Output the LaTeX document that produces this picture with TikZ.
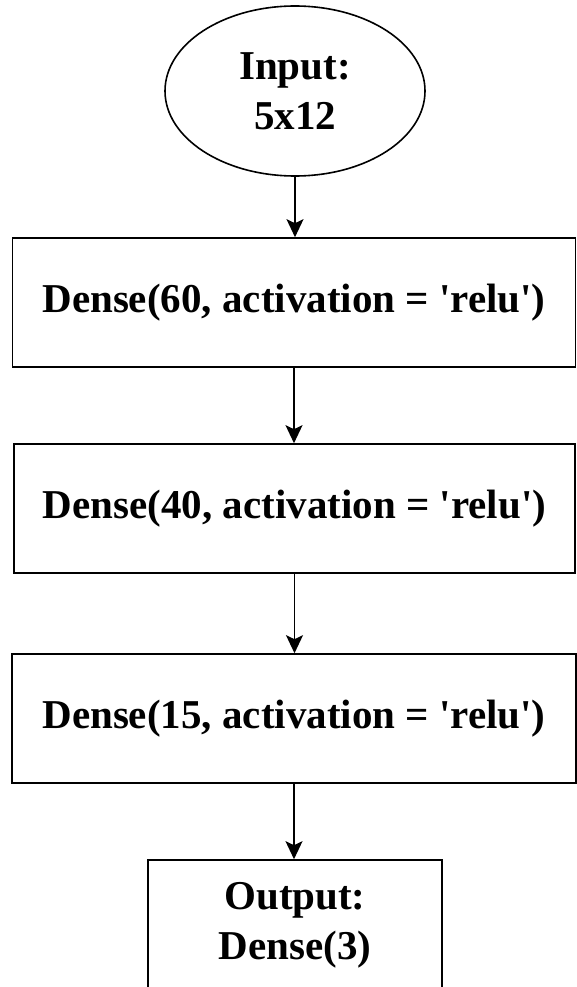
\documentclass[tikz,border=0pt]{standalone}
\usepackage{fontspec}
\setmainfont{Liberation Serif}[Ligatures=TeXOff]
\usetikzlibrary{shapes.geometric,arrows.meta}
\begin{document}
\begin{tikzpicture}[x=1pt,y=-1pt,
  every node/.style={font=\bfseries\fontsize{41}{50}\selectfont, align=center, inner sep=0pt},
  boxnode/.style={draw=black, line width=1.6pt, rectangle},
  ellnode/.style={draw=black, line width=1.6pt, ellipse},
  arr/.style={draw=black, line width=1.6pt, -{Stealth[length=18pt,width=17pt,inset=4pt]}}]
\useasboundingbox (0,0) rectangle (577,987);
\node[ellnode, minimum width=260pt, minimum height=170pt] (e) at (295,91) {Input:\\5x12};
\node[boxnode, minimum width=563pt, minimum height=129pt] (b1) at (294,302.5) {Dense(60, activation = 'relu')};
\node[boxnode, minimum width=561pt, minimum height=129pt] (b2) at (294.5,508.5) {Dense(40, activation = 'relu')};
\node[boxnode, minimum width=564pt, minimum height=129pt] (b3) at (294,718.5) {Dense(15, activation = 'relu')};
\node[boxnode, minimum width=294pt, minimum height=130pt] (b4) at (295,925) {Output:\\Dense(3)};
\draw[arr] (e.south) -- (e.south |- b1.north);
\draw[arr] (b1.south) -- (b1.south |- b2.north);
\draw[arr] (b2.south) -- (b2.south |- b3.north);
\draw[arr] (b3.south) -- (b3.south |- b4.north);
\end{tikzpicture}
\end{document}
